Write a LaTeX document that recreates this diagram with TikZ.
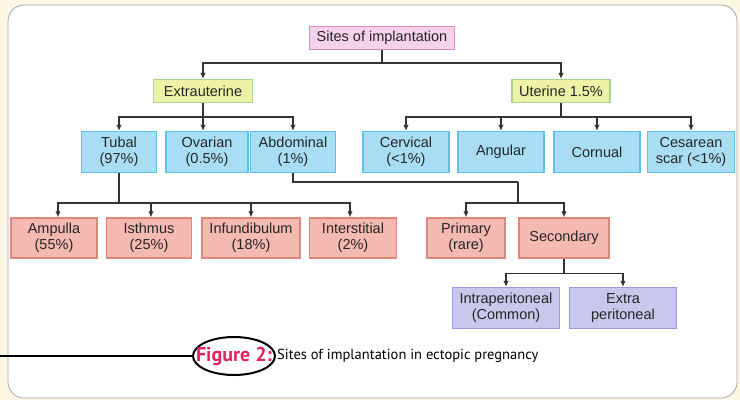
\documentclass[tikz,border=0pt]{standalone}
\usepackage{fontspec}
\setmainfont{Liberation Sans}
\newfontfamily\capfont{PT Sans}
\usetikzlibrary{arrows.meta,shapes.geometric}

\definecolor{cream}{HTML}{FCF8E3}
\definecolor{pinkfill}{HTML}{F5D2EA}
\definecolor{pinkline}{HTML}{D98EC2}
\definecolor{yelfill}{HTML}{EEF2A6}
\definecolor{yelline}{HTML}{A9D38E}
\definecolor{bluefill}{HTML}{A8DDF4}
\definecolor{blueline}{HTML}{5CC2EA}
\definecolor{redfill}{HTML}{F4B9B0}
\definecolor{redline}{HTML}{E0877C}
\definecolor{purpfill}{HTML}{C8C7EC}
\definecolor{purpline}{HTML}{9C9AD6}
\definecolor{figred}{HTML}{E2245E}

\tikzset{
  box/.style={draw,line width=1.3pt,inner sep=0pt,align=center,
    font=\fontsize{14.5}{16}\selectfont,text=black!85},
  pinkbox/.style={box,fill=pinkfill,draw=pinkline},
  yelbox/.style={box,fill=yelfill,draw=yelline},
  bluebox/.style={box,fill=bluefill,draw=blueline},
  redbox/.style={box,fill=redfill,draw=redline},
  purpbox/.style={box,fill=purpfill,draw=purpline},
  arr/.style={draw=black!80,line width=1.5pt,-{Latex[length=6pt,width=5.5pt]}},
  ln/.style={draw=black!80,line width=1.5pt}
}

\begin{document}
\begin{tikzpicture}[x=1pt,y=-1pt]
  % card
  \fill[cream] (0,0) rectangle (740,400);
  \useasboundingbox (0,0) rectangle (740,400);
  \draw[black!35,fill=white,line width=0.8pt,rounded corners=16] (8,5) rectangle (737,398);

  % top levels
  \node[pinkbox,minimum width=145,minimum height=23] (sites) at (382,38) {Sites of implantation};
  \node[yelbox,minimum width=99,minimum height=23] (extra) at (203,91) {Extrauterine};
  \node[yelbox,minimum width=98,minimum height=23] (uter) at (561,91) {Uterine 1.5\%};

  % extrauterine sites
  \node[bluebox,minimum width=75,minimum height=41] (tubal) at (119,152) {Tubal\\(97\%)};
  \node[bluebox,minimum width=82,minimum height=41] (ovar) at (207,152) {Ovarian\\(0.5\%)};
  \node[bluebox,minimum width=85,minimum height=41] (abdo) at (293,152) {Abdominal\\(1\%)};

  % uterine sites
  \node[bluebox,minimum width=86,minimum height=41] (cerv) at (406,152) {Cervical\\(<1\%)};
  \node[bluebox,minimum width=86,minimum height=41] (angu) at (501,152) {Angular};
  \node[bluebox,minimum width=86,minimum height=41] (corn) at (597,152) {Cornual};
  \node[bluebox,minimum width=87,minimum height=41] (cesa) at (691,152) {Cesarean\\scar (<1\%)};

  % tubal parts
  \node[redbox,minimum width=86,minimum height=40] (ampu) at (54,238) {Ampulla\\(55\%)};
  \node[redbox,minimum width=85,minimum height=40] (isth) at (149,238) {Isthmus\\(25\%)};
  \node[redbox,minimum width=98,minimum height=40] (infu) at (251,238) {Infundibulum\\(18\%)};
  \node[redbox,minimum width=87,minimum height=40] (inte) at (353,238) {Interstitial\\(2\%)};

  % abdominal
  \node[redbox,minimum width=78,minimum height=40] (prim) at (466,238) {Primary\\(rare)};
  \node[redbox,minimum width=90,minimum height=40] (seco) at (564,238) {Secondary};
  \node[purpbox,minimum width=107,minimum height=41] (intra) at (506,308) {Intraperitoneal\\(Common)};
  \node[purpbox,minimum width=107,minimum height=41] (expe) at (623,308) {Extra\\peritoneal};

  % connectors
  \draw[arr] (sites.south) -- ++(0,13) -| (extra.north);
  \draw[arr] (sites.south) -- ++(0,13) -| (uter.north);

  \draw[arr] (extra.south) -- ++(0,14) -| (tubal.north);
  \draw[arr] (extra.south) -- (ovar.north -| extra.south);
  \draw[arr] (extra.south) -- ++(0,14) -| (abdo.north);

  \draw[arr] (uter.south) -- ++(0,14) -| (cerv.north);
  \draw[arr] (uter.south) -- ++(0,14) -| (angu.north);
  \draw[arr] (uter.south) -- ++(0,14) -| (corn.north);
  \draw[arr] (uter.south) -- ++(0,14) -| (cesa.north);

  \draw[arr] (tubal.south) -- ++(0,30) -| ([xshift=4]ampu.north);
  \draw[arr] (tubal.south) -- ++(0,30) -| ([xshift=2]isth.north);
  \draw[arr] (tubal.south) -- ++(0,30) -| (infu.north);
  \draw[arr] (tubal.south) -- ++(0,30) -| ([xshift=-3]inte.north);

  \coordinate (abdj) at (518,182);
  \draw[ln] (abdo.south) |- (abdj);
  \draw[arr] (abdj) -- ++(0,21) -| (prim.north);
  \draw[arr] (abdj) -- ++(0,21) -| (seco.north);

  \draw[arr] (seco.south) -- ++(0,15) -| (intra.north);
  \draw[arr] (seco.south) -- ++(0,15) -| (expe.north);

  % caption
  \node[ellipse,draw,line width=2pt,inner xsep=-9pt,inner ysep=0pt,minimum height=38,
    font=\capfont\bfseries\fontsize{20}{22}\selectfont,text=figred] (fig) at (234,356) {Figure 2:};
  \coordinate (capl) at (0,356);
  \draw[line width=1.3pt] (capl) -- (fig.west);
  \node[anchor=west,inner sep=1pt,font=\capfont\fontsize{14.5}{16}\selectfont] (cap) at (fig.east) {Sites of implantation in ectopic pregnancy};
\end{tikzpicture}
\end{document}
